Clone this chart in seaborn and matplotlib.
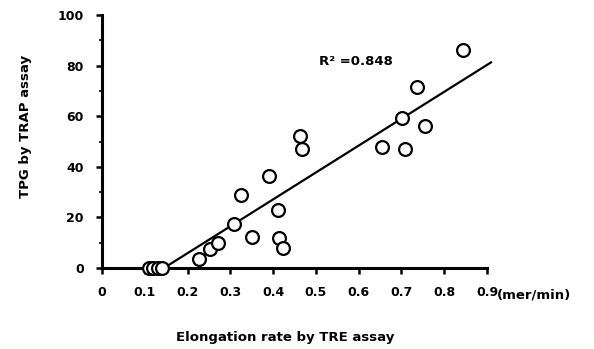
# -*- coding: utf-8 -*-
# TPG (TRAP) vs elongation rate (TRE) scatter with fitted line
import numpy as np
import pandas as pd
import seaborn as sns
from matplotlib import pyplot as plt

sns.set_style("ticks", {'text.color': 'black', 'axes.labelcolor': 'black',
                        'xtick.color': 'black', 'ytick.color': 'black'})
plt.rcParams['font.family'] = ['DejaVu Sans']

## DATA ##
elong_rate = [0.11, 0.12, 0.13, 0.14, 0.227, 0.252, 0.271, 0.308, 0.325, 0.351,
              0.390, 0.411, 0.414, 0.423, 0.462, 0.467, 0.654, 0.701, 0.708,
              0.736, 0.755, 0.843]
tpg = [0, 0, 0, 0, 3.6, 7.5, 9.9, 17.4, 28.9, 12.2,
       36.4, 22.9, 11.9, 7.9, 52.2, 47.0, 47.8, 59.3, 47.0,
       71.5, 56.1, 86.2]
# fitted line
fit_slope = 106.3
fit_intercept = -15.4
fit_x = [0.145, 0.91]
r2_text = "R² =0.848"
x_ticks = [0, 0.1, 0.2, 0.3, 0.4, 0.5, 0.6, 0.7, 0.8, 0.9]
y_ticks = [0, 20, 40, 60, 80, 100]
y_minor = [10, 30, 50, 70, 90]

df = pd.DataFrame({'rate': elong_rate, 'tpg': tpg})
fit_df = pd.DataFrame({'rate': fit_x,
                       'tpg': [fit_slope * v + fit_intercept for v in fit_x]})

## PLOT ##
fig = plt.figure(figsize=(5.94, 3.49), dpi=100)
ax = fig.add_axes([102 / 594, 1 - 268 / 349, 385 / 594, 253 / 349])

sns.lineplot(x='rate', y='tpg', data=fit_df, color='black', linewidth=1.6,
             clip_on=False, ax=ax)
sns.scatterplot(x='rate', y='tpg', data=df, s=85, facecolor='white',
                edgecolor='black', linewidth=1.6, clip_on=False, zorder=5, ax=ax)

ax.set_xlim(0, 0.9)
ax.set_ylim(0, 100)
ax.set_xticks(x_ticks)
ax.set_xticklabels(['0' if t == 0 else str(t) for t in x_ticks])
ax.set_yticks(y_ticks)
ax.set_yticks(y_minor, minor=True)
sns.despine(ax=ax)
for s in ['left', 'bottom']:
    ax.spines[s].set_linewidth(2.2)
    ax.spines[s].set_color('black')
ax.tick_params(axis='both', which='major', direction='out', length=4, width=1.8,
               color='black', labelcolor='black', labelsize=9, pad=9)
ax.tick_params(axis='y', which='minor', direction='out', length=2, width=1.2,
               color='black')
for lab in ax.get_xticklabels() + ax.get_yticklabels():
    lab.set_fontweight('bold')

ax.set_xlabel("Elongation rate by TRE assay", fontsize=9.5, fontweight='bold',
              color='black')
ax.xaxis.set_label_coords(0.475, -0.25)
ax.set_ylabel("TPG by TRAP assay", fontsize=9.5, fontweight='bold', color='black')
ax.yaxis.set_label_coords(-0.183, 0.56)
ax.text(1.025, -0.105, "(mer/min)", transform=ax.transAxes, fontsize=9.5,
        fontweight='bold', va='center', ha='left', color='black')
ax.text(0.508, 81.5, r2_text, fontsize=9.5, fontweight='bold', va='center',
        ha='left', color='black')

fig.savefig('out.png', dpi=100, facecolor='white')
